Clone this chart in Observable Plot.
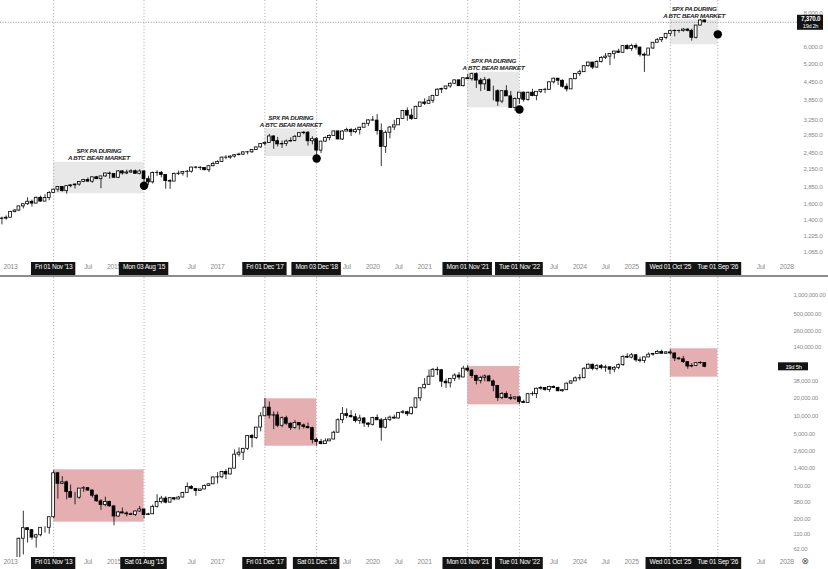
<!DOCTYPE html>
<html><head><meta charset="utf-8">
<script src="https://cdn.jsdelivr.net/npm/d3@7"></script>
<script src="https://cdn.jsdelivr.net/npm/@observablehq/plot@0.6"></script>
<style>
body{margin:0;background:#fff;}
#chart{width:828px;height:569px;overflow:hidden;background:#fff;}
#chart svg{display:block;}
.divider{height:2px;background:#8c8c8c;}
</style></head><body><div id="chart"></div>
<script>
// ---------- SPX monthly (Nov 2012 -> Jun 2026) ----------
const spxStartYear = 2012, spxStartMonth = 10;
const spxOpen0 = 1412;
const spxClose = [
  1416, 1426,
  1498, 1515, 1569, 1598, 1631, 1606, 1686, 1633, 1682, 1757, 1806, 1848,
  1783, 1859, 1872, 1884, 1924, 1960, 1931, 2003, 1972, 2018, 2068, 2059,
  1995, 2105, 2068, 2086, 2107, 2063, 2104, 1972, 1920, 2079, 2080, 2044,
  1940, 1932, 2060, 2065, 2097, 2099, 2174, 2171, 2168, 2126, 2199, 2239,
  2279, 2364, 2363, 2384, 2412, 2423, 2470, 2472, 2519, 2575, 2648, 2674,
  2824, 2714, 2641, 2648, 2705, 2718, 2816, 2902, 2914, 2712, 2760, 2507,
  2704, 2784, 2834, 2946, 2752, 2942, 2980, 2926, 2977, 3038, 3141, 3231,
  3226, 2954, 2585, 2912, 3044, 3100, 3271, 3500, 3363, 3270, 3622, 3756,
  3714, 3811, 3973, 4181, 4204, 4298, 4395, 4523, 4308, 4605, 4567, 4766,
  4516, 4374, 4530, 4132, 4132, 3785, 4130, 3955, 3586, 3872, 4080, 3840,
  4077, 3970, 4109, 4169, 4180, 4450, 4589, 4508, 4288, 4194, 4568, 4770,
  4846, 5096, 5254, 5036, 5278, 5460, 5522, 5648, 5762, 5705, 6032, 5882,
  6041, 5955, 5612, 5569, 5912, 6205, 6339, 6460, 6688, 6840, 6849, 6845,
  6930, 6860, 6470, 7170, 7480, 7370
];
const spxHigh = [
  1434, 1448,
  1504, 1525, 1570, 1598, 1687, 1654, 1698, 1710, 1730, 1776, 1814, 1849,
  1851, 1867, 1884, 1897, 1924, 1968, 1992, 2005, 2019, 2018, 2075, 2093,
  2064, 2120, 2117, 2126, 2135, 2130, 2133, 2113, 2021, 2094, 2116, 2104,
  2038, 1962, 2076, 2111, 2099, 2120, 2178, 2194, 2188, 2169, 2214, 2278,
  2301, 2371, 2401, 2398, 2418, 2454, 2484, 2491, 2519, 2582, 2657, 2695,
  2873, 2835, 2801, 2718, 2742, 2791, 2848, 2917, 2941, 2940, 2815, 2800,
  2708, 2813, 2860, 2949, 2954, 2964, 3028, 3014, 3022, 3050, 3154, 3248,
  3338, 3394, 3137, 2955, 3068, 3233, 3280, 3514, 3588, 3550, 3646, 3760,
  3870, 3951, 3984, 4218, 4238, 4302, 4429, 4538, 4546, 4608, 4744, 4808,
  4819, 4595, 4637, 4593, 4307, 4177, 4140, 4325, 4120, 3905, 4080, 4101,
  4095, 4195, 4079, 4170, 4231, 4458, 4607, 4584, 4541, 4393, 4587, 4794,
  4931, 5111, 5265, 5264, 5342, 5524, 5669, 5652, 5768, 5878, 6045, 6100,
  6128, 6147, 5987, 5695, 5912, 6215, 6428, 6482, 6700, 6890, 6920, 6900,
  7000, 6990, 6950, 7180, 7540, 7520
];
const spxLow = [
  1343, 1398,
  1426, 1485, 1501, 1536, 1581, 1560, 1605, 1627, 1633, 1646, 1746, 1767,
  1770, 1738, 1834, 1814, 1859, 1915, 1930, 1905, 1964, 1821, 2001, 1973,
  1988, 1981, 2040, 2048, 2067, 2056, 2044, 1867, 1872, 1893, 2019, 1993,
  1812, 1810, 1937, 2034, 2025, 1992, 2075, 2147, 2119, 2115, 2084, 2188,
  2245, 2271, 2322, 2329, 2353, 2405, 2407, 2417, 2446, 2520, 2557, 2605,
  2683, 2533, 2586, 2553, 2594, 2698, 2698, 2796, 2864, 2604, 2631, 2347,
  2444, 2682, 2723, 2849, 2750, 2729, 2952, 2822, 2892, 2856, 3050, 3070,
  3214, 2855, 2192, 2448, 2767, 2966, 3115, 3280, 3209, 3234, 3280, 3633,
  3662, 3725, 3723, 3955, 4056, 4165, 4234, 4367, 4306, 4279, 4560, 4495,
  4223, 4115, 4157, 4129, 3810, 3637, 3721, 3955, 3585, 3492, 3698, 3764,
  3794, 3943, 3809, 4049, 4048, 4167, 4385, 4335, 4238, 4104, 4189, 4546,
  4683, 4853, 5057, 4954, 5012, 5234, 5390, 5120, 5402, 5675, 5696, 5833,
  5773, 5837, 5505, 4835, 5578, 5862, 6202, 6212, 6360, 6550, 6521, 6720,
  6780, 6800, 6290, 6400, 7140, 7330
];

// ---------- BTC monthly (Jan 2013 -> Jun 2026) ----------
const btcStartYear = 2013, btcStartMonth = 0;
const btcOpen0 = 13.5;
const btcClose = [
  20.4, 33.4, 93, 139, 129, 97, 106, 141, 141, 211, 1130, 757,
  800, 550, 445, 445, 630, 640, 585, 480, 387, 338, 378, 320,
  217, 254, 244, 236, 230, 263, 284, 230, 236, 314, 377, 430,
  369, 437, 416, 448, 531, 673, 624, 575, 609, 698, 742, 963,
  970, 1190, 1080, 1348, 2300, 2480, 2875, 4700, 4340, 6470, 9950, 13850,
  10220, 10330, 6930, 9240, 7490, 6390, 7730, 7030, 6630, 6320, 4020, 3740,
  3440, 3820, 4100, 5320, 8560, 10820, 10080, 9600, 8290, 9150, 7560, 7200,
  9350, 8540, 6420, 8630, 9450, 9140, 11350, 11650, 10780, 13800, 19710, 28990,
  33110, 45140, 58740, 57720, 37300, 35040, 41460, 47100, 43790, 61300, 56950, 46210,
  38480, 43160, 45510, 37630, 31800, 19930, 23290, 20050, 19420, 20490, 17160, 16540,
  23130, 23150, 28480, 29230, 27220, 30480, 29230, 25930, 26970, 34650, 37720, 42280,
  42580, 61130, 71280, 60670, 67490, 62680, 64620, 58970, 63330, 70220, 96410, 93430,
  102400, 84350, 82550, 94200, 104600, 107150, 115700, 108250, 114050, 109600, 90400, 87600,
  78600, 66500, 68200, 75500, 76200, 65800
];
const btcHigh = [
  20.7, 33.5, 95, 266, 140, 130, 110, 141, 147, 215, 1242, 1165,
  995, 840, 720, 545, 630, 680, 650, 600, 500, 415, 455, 390,
  320, 265, 300, 260, 247, 268, 318, 285, 245, 335, 500, 470,
  462, 448, 440, 467, 549, 780, 705, 626, 616, 720, 757, 980,
  1160, 1210, 1300, 1350, 2760, 2980, 2920, 4760, 4980, 6470, 11400, 19666,
  17170, 11790, 11700, 9750, 9990, 7780, 8500, 7760, 7410, 7680, 6560, 4300,
  4130, 4200, 4130, 5640, 9080, 13880, 13200, 12330, 10950, 10370, 9510, 7750,
  9570, 10500, 9200, 9460, 10070, 10380, 11450, 12470, 12060, 14100, 19900, 29300,
  41950, 58350, 61790, 64900, 59590, 41300, 42320, 50500, 52900, 67000, 69000, 59100,
  47990, 45850, 48190, 47440, 39800, 31990, 24670, 25210, 22800, 21090, 21480, 18390,
  23960, 25250, 29190, 31000, 29830, 31440, 31800, 30200, 27480, 35200, 38420, 44700,
  48970, 63900, 73750, 72720, 71960, 71960, 70000, 65100, 66500, 73620, 99590, 108350,
  109350, 102500, 95000, 95750, 111900, 110500, 123200, 124450, 117900, 126200, 110500, 94500,
  97900, 79500, 74000, 77500, 80000, 76500
];
const btcLow = [
  13.2, 19.6, 33, 50, 79, 88, 65, 100, 115, 110, 200, 420,
  735, 410, 445, 340, 420, 545, 565, 440, 375, 275, 315, 310,
  152, 212, 240, 214, 228, 218, 253, 198, 225, 236, 300, 350,
  352, 365, 394, 415, 440, 526, 605, 470, 590, 605, 690, 740,
  750, 920, 890, 1060, 1350, 2100, 1840, 2700, 2970, 4100, 5500, 10900,
  9000, 6000, 6440, 6430, 7030, 5780, 6080, 5880, 6110, 6130, 3480, 3160,
  3350, 3400, 3800, 4090, 5330, 7510, 9080, 9320, 7710, 7300, 6520, 6430,
  6870, 8450, 3850, 6150, 8110, 8900, 8990, 10800, 9850, 10520, 13220, 17570,
  28100, 32300, 44950, 47040, 30000, 28800, 29300, 37300, 39600, 43300, 53300, 42000,
  32950, 34320, 37160, 37700, 25400, 17600, 18780, 19520, 18150, 18180, 15480, 16260,
  16500, 21350, 19550, 26940, 25810, 24800, 28860, 25170, 24900, 26970, 34100, 37630,
  38550, 41880, 59000, 56550, 56550, 58400, 53490, 49000, 52550, 58900, 66800, 91300,
  89200, 78200, 76600, 74500, 93400, 98200, 105300, 107300, 107300, 103500, 80600, 84500,
  75000, 60000, 63500, 66000, 72000, 63500
];

// ---------- annotations ----------
const markerDays = ["2013-11-01","2015-08-01","2017-12-01","2018-12-01","2021-11-01","2022-11-01","2025-10-01","2026-09-01"];
const spxTags = ["Fri 01 Nov '13","Mon 03 Aug '15","Fri 01 Dec '17","Mon 03 Dec '18","Mon 01 Nov '21","Tue 01 Nov '22","Wed 01 Oct '25","Tue 01 Sep '26"];
const btcTags = ["Fri 01 Nov '13","Sat 01 Aug '15","Fri 01 Dec '17","Sat 01 Dec '18","Mon 01 Nov '21","Tue 01 Nov '22","Wed 01 Oct '25","Tue 01 Sep '26"];
const boxStartDays = ["2013-11-01","2017-12-01","2021-11-01","2025-10-01"];
const boxEndDays   = ["2015-08-01","2018-12-01","2022-11-01","2026-09-01"];
const spxBoxLow  = [1745, 2386, 3590, 6100];
const spxBoxHigh = [2273, 3012, 4843, 7530];
const btcBoxLow  = [175, 3175, 15400, 44300];
const btcBoxHigh = [1290, 19400, 66500, 131000];
const spxDotDays = ["2015-08-01","2018-12-01","2022-11-01","2026-09-01"];
const spxDotValues = [1867, 2347, 3540, 6660];
const boxLabel = "SPX PA DURING\nA BTC BEAR MARKET";
const spxTicks = [1065, 1225, 1400, 1600, 1850, 2150, 2450, 2850, 3250, 3850, 4450, 5200, 6000, 8000];
const btcTicks = [62, 110, 200, 380, 700, 1400, 2600, 5000, 10000, 20000, 38000, 140000, 260000, 500000, 1000000];
const xTickYears = [2013,2014,2015,2016,2017,2018,2019,2020,2021,2022,2023,2024,2025,2026,2027,2028];
const spxCountdown = "19d 2h";
const btcCountdown = "19d 5h";

// ---------- build ----------
const BASEFONT = "'Liberation Sans', Arial, sans-serif";
const LS = -0.25; // letter spacing, px
const W = 828, MR = 38, FW = W - MR;
const day = d3.utcDay;
const toDate = s => new Date(s + "T00:00:00Z");
const xDomain = [new Date(Date.UTC(2012, 9, 22)), new Date(Date.UTC(2028, 0, 27))];
const ctx = document.createElement("canvas").getContext("2d");
const textWidth = (s, size, weight = "normal") => { ctx.font = `${weight} ${size}px ${BASEFONT}`; return ctx.measureText(s).width + s.length * LS; };

function buildCandles(y0, m0, open0, close, high, low) {
  return close.map((c, i) => ({
    date: new Date(Date.UTC(y0, m0 + i, 1)),
    open: i === 0 ? open0 : close[i - 1],
    close: c, high: high[i], low: low[i]
  }));
}
const spx = buildCandles(spxStartYear, spxStartMonth, spxOpen0, spxClose, spxHigh, spxLow);
const btc = buildCandles(btcStartYear, btcStartMonth, btcOpen0, btcClose, btcHigh, btcLow);
const markers = markerDays.map(toDate);
const mkBoxes = (lo, hi) => boxStartDays.map((s, i) => ({x1: toDate(s), x2: toDate(boxEndDays[i]), y1: lo[i], y2: hi[i]}));
const spxBoxes = mkBoxes(spxBoxLow, spxBoxHigh);
const btcBoxes = mkBoxes(btcBoxLow, btcBoxHigh);
const spxDots = spxDotDays.map((s, i) => ({date: toDate(s), value: spxDotValues[i]}));
const xTicks = [];
xTickYears.forEach(y => {
  xTicks.push({date: new Date(Date.UTC(y, 0, 1)), label: String(y)});
  if (y < 2028) xTicks.push({date: new Date(Date.UTC(y, 6, 1)), label: "Jul"});
});
// labels whose centre sits under a date tag are hidden (as in the reference)
const visibleTicks = xTicks.filter(t => markers.every(m => Math.abs(t.date - m) > 165 * 864e5));

function candleMarks(data) {
  const body = {x1: d => day.offset(d.date, -10), x2: d => day.offset(d.date, 10), y1: "open", y2: "close", stroke: "#000", strokeWidth: 0.8, clip: true};
  return [
    Plot.ruleX(data, {x: "date", y1: "low", y2: "high", stroke: "#000", strokeWidth: 0.8, clip: true}),
    Plot.rect(data.filter(d => d.close >= d.open), {...body, fill: "#fff"}),
    Plot.rect(data.filter(d => d.close < d.open), {...body, fill: "#000"})
  ];
}
function stripMarks(tags, FH, stripH, dy) {
  const TAG_FS = 6.6;
  return [
    Plot.text(visibleTicks, {x: "date", text: "label", frameAnchor: "bottom", dy, fill: "#8c8c8c", fontSize: 6.8}),
    ...markers.map((m, i) => {
      const half = textWidth(tags[i], TAG_FS) / 2 + 3.5;
      return Plot.rect([m], {x1: d => d, x2: d => d, insetLeft: -half, insetRight: -half, insetTop: FH, insetBottom: -stripH, fill: "#131313"});
    }),
    Plot.text(markers, {x: d => d, text: (d, i) => tags[i], frameAnchor: "bottom", dy, fill: "#fff", fontSize: TAG_FS})
  ];
}
const vLines = (stripH) => Plot.ruleX(markers, {x: d => d, stroke: "#a0a0a0", strokeWidth: 0.8, strokeDasharray: "1.2,2", insetBottom: -stripH});
const plotStyle = {fontFamily: BASEFONT, background: "#fff", letterSpacing: LS + "px"};

// ---------- top panel ----------
const TOP_H = 275, TOP_MB = 13, TOP_FH = TOP_H - TOP_MB;
const lastSpx = spxClose[spxClose.length - 1];
const topPlot = Plot.plot({
  width: W, height: TOP_H, marginLeft: 0, marginRight: MR, marginTop: 0, marginBottom: TOP_MB,
  x: {type: "utc", domain: xDomain, axis: null},
  y: {type: "log", domain: [979, 8850], axis: null},
  style: plotStyle,
  marks: [
    Plot.rect(spxBoxes, {x1: "x1", x2: "x2", y1: "y1", y2: "y2", fill: "#e8e8e8"}),
    vLines(TOP_MB),
    Plot.ruleY([lastSpx], {y: d => d, stroke: "#777", strokeWidth: 0.8, strokeDasharray: "1,1.6", insetRight: -7}),
    ...candleMarks(spx),
    Plot.dot(spxDots, {x: "date", y: "value", r: 4.2, fill: "#000"}),
    Plot.text(spxBoxes, {x: d => new Date((+d.x1 + +d.x2) / 2), y: "y2", text: () => boxLabel, lineAnchor: "bottom", dy: -2, lineHeight: 1.1,
      fontStyle: "italic", fontWeight: 600, fontSize: 6.2, fill: "#222"}),
    Plot.text(spxTicks, {y: d => d, text: d => d3.format(",.1f")(d), frameAnchor: "right", textAnchor: "start", dx: 13, fill: "#8c8c8c", fontSize: 6.2}),
    ...stripMarks(spxTags, TOP_FH, TOP_MB, 6.5),
    Plot.rect([lastSpx], {y1: d => d, y2: d => d, insetTop: -7, insetBottom: -8, insetLeft: FW + 7, insetRight: -33, fill: "#131313"}),
    Plot.text([lastSpx], {y: d => d, text: d => d3.format(",.1f")(d), frameAnchor: "right", dx: 20, dy: -3, fill: "#fff", fontWeight: 700, fontSize: 6.3, textAnchor: "middle"}),
    Plot.text([lastSpx], {y: d => d, text: () => spxCountdown, frameAnchor: "right", dx: 20, dy: 4, fill: "#fff", fontSize: 5.5, textAnchor: "middle"})
  ]
});

// ---------- bottom panel ----------
const BOT_H = 292, BOT_MB = 12, BOT_FH = BOT_H - BOT_MB;
const lastBtc = btcClose[btcClose.length - 1];
const bottomPlot = Plot.plot({
  width: W, height: BOT_H, marginLeft: 0, marginRight: MR, marginTop: 0, marginBottom: BOT_MB,
  x: {type: "utc", domain: xDomain, axis: null},
  y: {type: "log", domain: [45.4, 1.99e6], axis: null},
  style: plotStyle,
  marks: [
    Plot.rect(btcBoxes, {x1: "x1", x2: "x2", y1: "y1", y2: "y2", fill: "#e5afb2"}),
    vLines(BOT_MB),
    ...candleMarks(btc),
    Plot.text(btcTicks, {y: d => d, text: d => d3.format(",.2f")(d), frameAnchor: "right", textAnchor: "start", dx: 3, fill: "#8c8c8c", fontSize: 6}),
    ...stripMarks(btcTags, BOT_FH, BOT_MB, 6),
    Plot.rect([lastBtc], {y1: d => d, y2: d => d, insetTop: -4, insetBottom: -4, insetLeft: FW - 12, insetRight: -18, fill: "#131313"}),
    Plot.text([lastBtc], {y: d => d, text: () => btcCountdown, frameAnchor: "right", dx: 3, fill: "#fff", fontSize: 5.8, textAnchor: "middle"}),
    Plot.text(["\u2297"], {text: d => d, frameAnchor: "bottom-right", dx: 18, dy: 6, fill: "#555", fontSize: 9, fontFamily: "DejaVu Sans"})
  ]
});

const chart = document.getElementById("chart");
chart.append(topPlot);
const divider = document.createElement("div"); divider.className = "divider"; chart.append(divider);
chart.append(bottomPlot);
</script></body></html>
